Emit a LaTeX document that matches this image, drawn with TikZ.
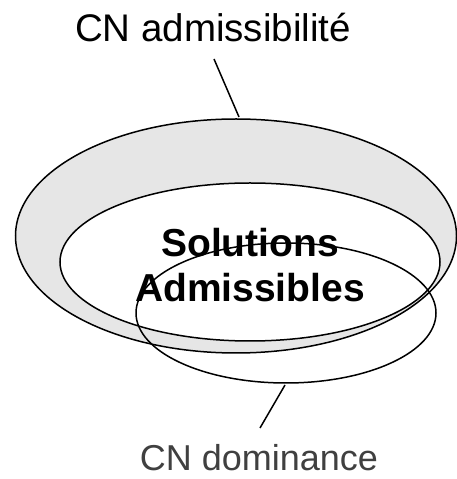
\documentclass[tikz,border=0pt]{standalone}
\usepackage{fontspec}
\setmainfont{Liberation Sans}
\usetikzlibrary{shapes.geometric}
\definecolor{ringgray}{HTML}{E6E6E6}
\definecolor{labelgray}{HTML}{404040}
\begin{document}
\begin{tikzpicture}[x=1pt,y=1pt,
  setshape/.style={ellipse,draw=black,line width=1.5pt,inner sep=0pt},
  connector/.style={draw=black,line width=1.5pt},
  toplabel/.style={font=\fontsize{38.5}{46}\selectfont,text=black,inner sep=0pt,anchor=base},
  botlabel/.style={font=\fontsize{36}{43}\selectfont,text=labelgray,inner sep=0pt,anchor=base}]
\useasboundingbox (0,0) rectangle (456,479);
\node[setshape,fill=ringgray,minimum width=441pt,minimum height=234pt] (outer) at (236,243) {};
\node[setshape,fill=white,minimum width=380pt,minimum height=158pt] (inner) at (250,217) {};
\node[font=\bfseries\fontsize{39}{45}\selectfont,align=center,inner sep=0pt] (sol) at (250,214) {Solutions\\Admissibles};
\node[setshape,minimum width=300pt,minimum height=140pt] (dom) at (286,166) {};
\node[toplabel] (adm) at (213,437) {CN admissibilité};
\node[botlabel] (domlab) at (259,9) {CN dominance};
\coordinate (a1) at (214,420);
\coordinate (a2) at (239,362);
\coordinate (d1) at (285,94);
\coordinate (d2) at (260,51);
\draw[connector] (a1) -- (a2);
\draw[connector] (d1) -- (d2);
\end{tikzpicture}
\end{document}
